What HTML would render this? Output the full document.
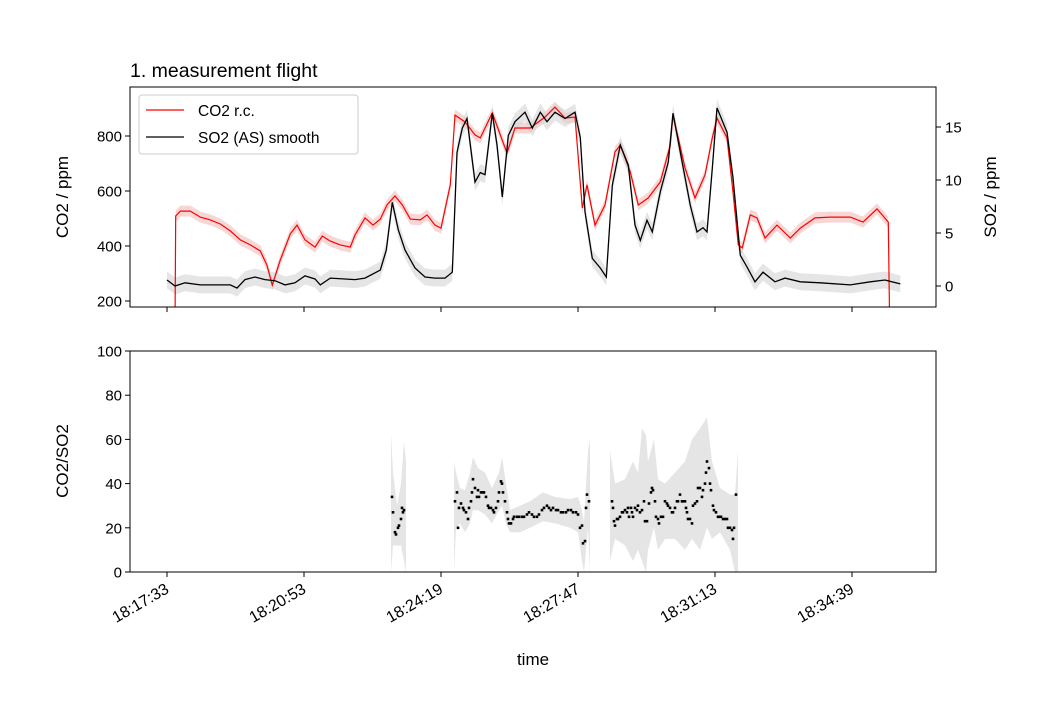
<!DOCTYPE html>
<html><head><meta charset="utf-8"><style>
body{margin:0;background:#fff;}
svg text{font-family:"Liberation Sans","DejaVu Sans",sans-serif;fill:#000;}
</style></head><body>
<svg id="chart" width="1040" height="715" xmlns="http://www.w3.org/2000/svg">
<defs>
<clipPath id="clipTop"><rect x="130" y="87" width="806" height="220"/></clipPath>
<clipPath id="clipBot"><rect x="130" y="351" width="806" height="221"/></clipPath>
</defs>
<text x="130" y="77" font-size="19.5">1. measurement flight</text>
<g id="topPanel"></g>
<g id="botPanel"></g>
</svg>
<script>
// time in seconds since 18:17:33
const tickVals=[0,205.5,411,616.5,822,1027.5];
const tickLabels=["18:17:33","18:20:53","18:24:19","18:27:47","18:31:13","18:34:39"];
const co2T=[12,13,20,35,50,65,80,95,110,125,140,150,158,170,185,195,207,222,233,245,260,275,282,297,309,320,330,342,353,365,380,390,402,411,425,432,447,462,470,488,500,510,522,545,567,582,597,612,623,630,642,657,672,680,695,707,722,740,755,759,777,792,807,818,825,840,849,857,863,875,885,897,915,935,950,972,995,1025,1044,1065,1082,1084];
const co2V=[100,509,527,527,505,495,480,455,422,404,382,330,258,349,444,476,422,396,436,418,404,396,440,502,476,498,549,582,549,498,495,513,476,465,622,876,851,804,793,884,804,738,829,829,869,905,865,869,538,622,476,549,742,767,669,549,575,633,767,876,684,575,658,793,865,793,596,404,393,513,502,429,476,429,465,502,505,505,487,535,487,100];
const so2T=[0,12,27,50,95,105,117,132,147,162,177,192,207,222,230,245,267,282,297,320,329,338,347,357,372,387,402,417,428,435,443,450,462,470,477,488,495,503,512,522,537,548,560,570,582,597,612,620,627,638,650,659,668,680,692,702,710,720,728,740,752,759,770,785,795,804,810,818,825,840,849,860,870,882,894,912,927,950,980,1025,1055,1077,1100];
const so2V=[0.57,0,0.3,0.1,0.1,-0.2,0.6,0.85,0.6,0.5,0.1,0.3,0.95,0.66,0.1,0.75,0.66,0.6,0.75,1.5,3.4,7.9,5.3,3.4,1.7,0.85,0.75,0.75,1.3,12.6,14.9,15.8,9.8,10.7,10.5,16.3,13.3,8.4,14.2,15.5,16.4,14.9,16.4,15.5,16.4,15.8,16.4,14,7.0,2.6,1.7,0.85,9.5,13.3,11.4,5.75,4.3,6.2,5.1,8.9,11.7,16.3,12.6,7.6,5.1,5.5,5.1,11.1,16.8,14.5,10.2,2.9,1.8,0.4,1.3,0.4,0.75,0.4,0.3,0.1,0.4,0.57,0.2];
const co2Err=20, so2Err=0.8;
const ratioT=[337.5,339,342,343.5,346.5,348,351,352.5,354,355.5,
432,435,436.5,438,441,444,445.5,448.5,451.5,453,456,457.5,459,462,465,466.5,468,471,474,475.5,478.5,481.5,483,486,489,490.5,493.5,496.5,498,501,502.5,504,507,510,511.5,513,516,519,520.5,525,528,532.5,535.5,540,543,547.5,550.5,555,558,562.5,565.5,570,573,576,579,583.5,586.5,591,594,598.5,601.5,606,609,613.5,616.5,619.5,622.5,624,627,628.5,630,633,
667.5,669,670.5,672,675,676.5,679.5,682.5,684,687,690,691.5,693,696,697.5,699,702,705,706.5,709.5,712.5,715.5,717,720,723,726,727.5,729,732,733.5,736.5,738,741,744,747,750,751.5,754.5,757.5,759,762,765,766.5,769.5,772.5,774,777,778.5,780,781.5,784.5,787.5,789,792,795,796.5,799.5,802.5,804,807,808.5,810,813,814.5,816,819,820.5,823.5,826.5,828,831,834,837,840,841.5,844.5,847.5,849,850.5,853.5];
const ratioV=[34,27,18,17,20,21,24,29,27,28,
32,36,20,29,31,29,28,27,24,29,32,36,42,38,34,37,34,36,36,36,34,30,29,29,28,27,29,32,36,41,40,36,32,27,24,22,22,24,25,25,25,25,25,26,27,26,25,25,26,28,29,30,29,28,29,28,28,27,27,27,28,28,27,27,26,20,21,13,14,29,35,32,
32,29,23,21,24,24,25,27,27,28,27,29,25,29,27,25,29,28,30,27,28,32,23,23,31,36,38,37,32,25,24,22,25,25,32,31,30,29,27,27,29,32,32,35,32,32,32,29,27,24,24,22,30,31,32,38,38,34,37,40,45,50,47,40,37,30,28,27,25,25,25,24,24,24,20,20,19,15,20,35];
// uncertainty band (null = gap)
const bandT=[336,339,345,351,355.5,358.5,null,430.5,433.5,439.5,447,454.5,459,466.5,477,487.5,498,502.5,508.5,514.5,529.5,544.5,564,582,604.5,616.5,622.5,625.5,631.5,634.5,null,664.5,672,687,699,706.5,712.5,718.5,721.5,730.5,736.5,747,762,777,787.5,799.5,810,817.5,829.5,844.5,852,856.5];
const bandLo=[0,12,12,12,5,0,null,0,20,22,18,22,28,28,26,22,28,30,22,18,18,20,23,22,20,18,5,0,20,0,null,5,15,12,5,10,5,0,10,20,10,15,15,10,15,10,20,15,18,10,0,0];
const bandHi=[63,45,30,40,59,50,null,50,45,38,37,45,52,47,45,38,45,52,40,28,30,32,36,34,33,34,28,22,55,60,null,55,40,42,50,45,65,62,50,60,42,40,45,50,60,65,70,50,38,35,35,55];

const NS="http://www.w3.org/2000/svg";
const L=130,R=936;
const xs=t=>L+(t+55.5)*(R-L)/(1153.5+55.5);
const yCO2=v=>301-(v-200)*0.275;
const ySO2=v=>286-v*10.6;
const yRat=v=>572-v*2.21;
function mk(tag,attrs,parent){const e=document.createElementNS(NS,tag);for(const k in attrs)e.setAttribute(k,attrs[k]);parent.appendChild(e);return e;}
const topG=document.getElementById('topPanel'),botG=document.getElementById('botPanel');

function bandPath(T,V,err,fy){let up='',dn='';for(let i=0;i<T.length;i++){up+=(i?'L':'M')+xs(T[i]).toFixed(1)+','+fy(V[i]+err).toFixed(1);}
for(let i=T.length-1;i>=0;i--){dn+='L'+xs(T[i]).toFixed(1)+','+fy(V[i]-err).toFixed(1);}return up+dn+'Z';}
function linePath(T,V,fy){return T.map((t,i)=>(i?'L':'M')+xs(t).toFixed(1)+','+fy(V[i]).toFixed(1)).join('');}

const gT=mk('g',{'clip-path':'url(#clipTop)'},topG);
let e;
e=mk('path',{d:bandPath(co2T.slice(1,-1),co2V.slice(1,-1),co2Err,yCO2),fill:'#f4c4c4',opacity:0.7},gT);


e=mk('path',{d:bandPath(so2T,so2V,so2Err,ySO2),fill:'#d3d3d3',opacity:0.6},gT);


e=mk('path',{d:linePath(co2T,co2V,yCO2),fill:'none',stroke:'#ff0000','stroke-width':1.2},gT);


e=mk('path',{d:linePath(so2T,so2V,ySO2),fill:'none',stroke:'#000','stroke-width':1.3},gT);



const gB=mk('g',{'clip-path':'url(#clipBot)'},botG);
let segs=[],cur=[];
for(let i=0;i<bandT.length;i++){if(bandT[i]===null){segs.push(cur);cur=[];}else cur.push(i);}
segs.push(cur);
segs.forEach(s=>{let d='';s.forEach((i,k)=>d+=(k?'L':'M')+xs(bandT[i]).toFixed(1)+','+yRat(bandHi[i]).toFixed(1));
for(let k=s.length-1;k>=0;k--)d+='L'+xs(bandT[s[k]]).toFixed(1)+','+yRat(bandLo[s[k]]).toFixed(1);
const p=mk('path',{d:d+'Z',fill:'#d3d3d3',opacity:0.6},gB);

});
ratioT.forEach((t,i)=>{const c=mk('rect',{x:(xs(t)-1.3).toFixed(1),y:(yRat(ratioV[i])-1.3).toFixed(1),width:2.6,height:2.6,fill:'#000'},gB);

});

e=mk('rect',{x:L,y:87,width:R-L,height:220,fill:'none',stroke:'#000','stroke-width':1},topG);


e=mk('rect',{x:L,y:351,width:R-L,height:221,fill:'none',stroke:'#000','stroke-width':1},botG);



tickVals.forEach((v,i)=>{const x=xs(v);
mk('line',{x1:x,x2:x,y1:307,y2:312,stroke:'#000'},topG);
mk('line',{x1:x,x2:x,y1:572,y2:577,stroke:'#000'},botG);
const t=mk('text',{x:x+3,y:592,'font-size':16,'text-anchor':'end',transform:`rotate(-30 ${x+3} 592)`},botG);
t.textContent=tickLabels[i];

});
const co2Ticks=[200,400,600,800], so2Ticks=[0,5,10,15], ratTicks=[0,20,40,60,80,100];
co2Ticks.forEach(v=>{const y=yCO2(v);mk('line',{x1:L-5,x2:L,y1:y,y2:y,stroke:'#000'},topG);
const t=mk('text',{x:L-8,y:y+5.5,'font-size':15,'text-anchor':'end'},topG);t.textContent=v;

});
so2Ticks.forEach(v=>{const y=ySO2(v);mk('line',{x1:R,x2:R+5,y1:y,y2:y,stroke:'#000'},topG);
const t=mk('text',{x:R+9,y:y+5.5,'font-size':15},topG);t.textContent=v;

});
ratTicks.forEach(v=>{const y=yRat(v);mk('line',{x1:L-5,x2:L,y1:y,y2:y,stroke:'#000'},botG);
const t=mk('text',{x:L-8,y:y+5.5,'font-size':15,'text-anchor':'end'},botG);t.textContent=v;

});
</script>
<svg style="position:absolute;left:0;top:0" width="1040" height="715">
<text x="68" y="197" font-size="17" text-anchor="middle" transform="rotate(-90 68 197)">CO2 / ppm</text>
<text x="996" y="197" font-size="17" text-anchor="middle" transform="rotate(-90 996 197)">SO2 / ppm</text>
<text x="68" y="461" font-size="17" text-anchor="middle" transform="rotate(-90 68 461)">CO2/SO2</text>
<text x="533" y="665" font-size="17" text-anchor="middle">time</text>
<g>
<rect x="139" y="95" width="219" height="59" rx="3" fill="#fff" fill-opacity="0.8" stroke="#ccc"/>
<line x1="146" y1="110" x2="184" y2="110" stroke="#ff0000" stroke-width="1.3"/>
<text x="198" y="116" font-size="15.5">CO2 r.c.</text>
<line x1="146" y1="137" x2="184" y2="137" stroke="#000" stroke-width="1.3"/>
<text x="198" y="143" font-size="15.5">SO2 (AS) smooth</text>
</g>
</svg>
</body></html>
